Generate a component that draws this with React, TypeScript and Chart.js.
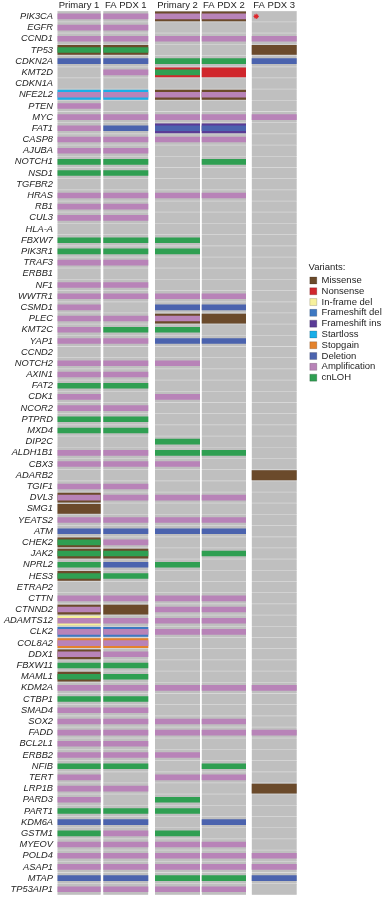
import React, { useEffect, useRef } from "react";
import { Chart, registerables } from "chart.js";

Chart.register(...registerables);

// ---------- DATA ----------
const GENES = [
  "PIK3CA", "EGFR", "CCND1", "TP53", "CDKN2A", "KMT2D", "CDKN1A", "NFE2L2", "PTEN", "MYC",
  "FAT1", "CASP8", "AJUBA", "NOTCH1", "NSD1", "TGFBR2", "HRAS", "RB1", "CUL3", "HLA-A",
  "FBXW7", "PIK3R1", "TRAF3", "ERBB1", "NF1", "WWTR1", "CSMD1", "PLEC", "KMT2C", "YAP1",
  "CCND2", "NOTCH2", "AXIN1", "FAT2", "CDK1", "NCOR2", "PTPRD", "MXD4", "DIP2C", "ALDH1B1",
  "CBX3", "ADARB2", "TGIF1", "DVL3", "SMG1", "YEATS2", "ATM", "CHEK2", "JAK2", "NPRL2",
  "HES3", "ETRAP2", "CTTN", "CTNND2", "ADAMTS12", "CLK2", "COL8A2", "DDX1", "FBXW11", "MAML1",
  "KDM2A", "CTBP1", "SMAD4", "SOX2", "FADD", "BCL2L1", "ERBB2", "NFIB", "TERT", "LRP1B",
  "PARD3", "PART1", "KDM6A", "GSTM1", "MYEOV", "POLD4", "ASAP1", "MTAP", "TP53AIP1",
];

const SAMPLES = ["Primary 1", "FA PDX 1", "Primary 2", "FA PDX 2", "FA PDX 3"];

// copy-number codes per gene: A = Amplification, D = Deletion, L = cnLOH, "" = none
const CNV_PRIMARY1 = [
  "A", "A", "A", "L", "D", "", "", "A", "A", "A",
  "A", "A", "A", "L", "L", "", "A", "A", "A", "",
  "L", "L", "A", "", "A", "A", "A", "A", "A", "A",
  "", "A", "A", "L", "A", "A", "L", "L", "", "A",
  "A", "", "A", "A", "", "A", "D", "L", "L", "L",
  "L", "", "A", "A", "A", "A", "A", "A", "L", "L",
  "A", "L", "A", "A", "A", "A", "A", "L", "A", "A",
  "A", "L", "D", "L", "A", "A", "A", "D", "A",
];
const CNV_PDX1 = [
  "A", "A", "A", "L", "D", "A", "", "A", "", "A",
  "D", "A", "A", "L", "L", "", "A", "A", "A", "",
  "L", "L", "A", "", "A", "A", "", "A", "L", "A",
  "", "A", "A", "L", "", "A", "L", "L", "", "A",
  "A", "", "A", "A", "", "A", "D", "A", "L", "D",
  "L", "", "A", "", "A", "A", "A", "A", "L", "L",
  "A", "L", "A", "A", "A", "A", "A", "L", "", "A",
  "", "L", "D", "A", "A", "A", "A", "D", "A",
];
const CNV_PRIMARY2 = [
  "A", "", "A", "", "L", "L", "", "A", "", "A",
  "D", "A", "", "", "", "", "A", "", "", "",
  "L", "L", "", "", "", "A", "D", "A", "L", "D",
  "", "A", "", "", "A", "", "", "", "L", "L",
  "A", "", "", "A", "", "A", "D", "", "", "L",
  "", "", "A", "A", "A", "A", "", "", "", "",
  "A", "", "", "A", "A", "", "A", "", "A", "",
  "L", "L", "", "L", "A", "A", "A", "L", "A",
];
const CNV_PDX2 = [
  "A", "", "A", "", "L", "", "", "A", "", "A",
  "D", "A", "", "L", "", "", "A", "", "", "",
  "", "", "", "", "", "A", "D", "", "", "D",
  "", "", "", "", "", "", "", "", "", "L",
  "", "", "", "A", "", "A", "D", "", "L", "",
  "", "", "A", "A", "A", "A", "", "", "", "",
  "A", "", "", "A", "A", "", "", "L", "A", "",
  "", "", "D", "", "A", "A", "A", "L", "A",
];
const CNV_PDX3 = [
  "", "", "A", "", "D", "", "", "", "", "A",
  "", "", "", "", "", "", "", "", "", "",
  "", "", "", "", "", "", "", "", "", "",
  "", "", "", "", "", "", "", "", "", "",
  "", "", "", "", "", "", "", "", "", "",
  "", "", "", "", "", "", "", "", "", "",
  "A", "", "", "", "A", "", "", "", "", "",
  "", "", "", "", "", "A", "A", "D", "",
];

// small variants per sample
const MUT_PRIMARY1: Record<string, string> = {
  TP53: "Missense", NFE2L2: "Startloss", DVL3: "Missense", SMG1: "Missense",
  CHEK2: "Missense", JAK2: "Missense", HES3: "Missense", CTNND2: "Missense",
  ADAMTS12: "In-frame del", CLK2: "Frameshift del", COL8A2: "Stopgain",
  DDX1: "Missense", MAML1: "Missense",
};
const MUT_PDX1: Record<string, string> = {
  TP53: "Missense", NFE2L2: "Startloss", JAK2: "Missense", CTNND2: "Missense",
  CLK2: "Frameshift del", COL8A2: "Stopgain",
};
const MUT_PRIMARY2: Record<string, string> = {
  PIK3CA: "Missense", KMT2D: "Nonsense", NFE2L2: "Missense", FAT1: "Frameshift ins",
  PLEC: "Missense",
};
const MUT_PDX2: Record<string, string> = {
  PIK3CA: "Missense", KMT2D: "Nonsense", NFE2L2: "Missense", FAT1: "Frameshift ins",
  PLEC: "Missense",
};
const MUT_PDX3: Record<string, string> = {
  TP53: "Missense", ADARB2: "Missense", LRP1B: "Missense",
};

// flagged cell (red asterisk)
const FLAGGED = [{ sample: "FA PDX 3", gene: "PIK3CA" }];

const VARIANTS = [
  "Missense", "Nonsense", "In-frame del", "Frameshift del", "Frameshift ins",
  "Startloss", "Stopgain", "Deletion", "Amplification", "cnLOH",
];
const VARIANT_COLORS = [
  "#6b4a2b", "#d0262c", "#f7f19c", "#3d78c2", "#5a3b96",
  "#19aee8", "#e4822c", "#4b63ae", "#b883b8", "#2f9f52",
];

// ---------- STYLE / LAYOUT ----------
const CNV_NAME: Record<string, string> = { A: "Amplification", D: "Deletion", L: "cnLOH" };
const colorOf = (v: string) => VARIANT_COLORS[VARIANTS.indexOf(v)] || "rgba(0,0,0,0)";

const COL_START = [0, 46, 97.7, 144.4, 194.4];
const COL_END = [43.4, 91, 142.7, 188.7, 239.4];
const Y_AXIS_W = 57.3;
const LEGEND_W = 76.5;
const X_MAX = 385 - LEGEND_W - Y_AXIS_W;
const FONT = "'Liberation Sans', Arial, Helvetica, sans-serif";
const CELL = "#bfbfbf";
const SEP = "#d6d6d6";
const TEXT = "#1e1e1e";

const CNVS = [CNV_PRIMARY1, CNV_PDX1, CNV_PRIMARY2, CNV_PDX2, CNV_PDX3];
const MUTS = [MUT_PRIMARY1, MUT_PDX1, MUT_PRIMARY2, MUT_PDX2, MUT_PDX3];

export default function App() {
  const ref = useRef<HTMLCanvasElement | null>(null);

  useEffect(() => {
    if (!ref.current) return;
    const datasets: any[] = [];
    SAMPLES.forEach((s, c) => {
      const span = [COL_START[c], COL_END[c]];
      datasets.push({
        label: s + " cell",
        data: GENES.map(() => span),
        backgroundColor: CELL,
        borderColor: SEP,
        borderWidth: { top: 0.7, bottom: 0.7, left: 0, right: 0 },
        borderSkipped: false,
        barPercentage: 1,
        categoryPercentage: 1,
        grouped: false,
        order: 3,
      });
      const mut = MUTS[c];
      datasets.push({
        label: s + " variant",
        data: GENES.map((g) => (mut[g] ? span : null)),
        backgroundColor: GENES.map((g) => colorOf(mut[g])),
        borderWidth: 0,
        barPercentage: 0.875,
        categoryPercentage: 1,
        grouped: false,
        order: 2,
      });
      const cnv = CNVS[c];
      datasets.push({
        label: s + " cnv",
        data: cnv.map((k) => (k ? span : null)),
        backgroundColor: cnv.map((k) => colorOf(CNV_NAME[k])),
        borderWidth: 0,
        barPercentage: 0.5,
        categoryPercentage: 1,
        grouped: false,
        order: 1,
      });
    });
    datasets.push({
      type: "scatter",
      label: "flag",
      data: FLAGGED.map((f) => ({ x: COL_START[SAMPLES.indexOf(f.sample)] + 4.5, y: f.gene })),
      pointStyle: "star",
      pointRadius: 2.6,
      borderColor: "#e0262c",
      backgroundColor: "#e0262c",
      borderWidth: 1.1,
      order: 0,
    });

    const chart = new Chart(ref.current, {
      type: "bar",
      data: { labels: GENES, datasets },
      options: {
        indexAxis: "y",
        animation: false,
        responsive: false,
        events: [],
        layout: { padding: { top: 0, right: 0, bottom: 3, left: 0 } },
        plugins: {
          tooltip: { enabled: false },
          legend: {
            position: "right",
            align: "start",
            maxWidth: LEGEND_W,
            title: {
              display: true,
              text: "Variants:",
              position: "start",
              color: TEXT,
              font: { family: FONT, size: 9.5 },
              padding: { top: 263, bottom: 0 },
            },
            labels: {
              boxWidth: 7,
              boxHeight: 7,
              padding: 1.3,
              color: TEXT,
              font: { family: FONT, size: 9.5 },
              generateLabels: () =>
                VARIANTS.map((v, i) => ({
                  text: v,
                  fillStyle: VARIANT_COLORS[i],
                  strokeStyle: "rgba(0,0,0,0.35)",
                  lineWidth: 0.5,
                  hidden: false,
                  datasetIndex: i,
                })),
            },
          },
        },
        scales: {
          x: {
            type: "linear",
            position: "top",
            min: 0,
            max: X_MAX,
            grid: { display: false, drawTicks: false },
            border: { display: false },
            afterBuildTicks: (scale: any) => {
              scale.ticks = SAMPLES.map((_, i) => ({ value: (COL_START[i] + COL_END[i]) / 2 }));
            },
            afterFit: (scale: any) => {
              scale.height = 10.8;
              scale.paddingLeft = 0;
              scale.paddingRight = 0;
            },
            ticks: {
              autoSkip: false,
              maxRotation: 0,
              minRotation: 0,
              padding: -0.5,
              color: TEXT,
              font: { family: FONT, size: 9.5 },
              callback: (_v: any, i: number) => SAMPLES[i],
            },
          },
          y: {
            type: "category",
            grid: { display: false, drawTicks: false },
            border: { display: false },
            afterFit: (scale: any) => {
              scale.width = Y_AXIS_W;
              scale.paddingTop = 0;
              scale.paddingBottom = 0;
            },
            ticks: {
              autoSkip: false,
              padding: 4.3,
              color: TEXT,
              font: { family: FONT, size: 9.3, style: "italic" },
            },
          },
        },
      } as any,
    });
    return () => chart.destroy();
  }, []);

  return (
    <div style={{ position: "absolute", left: 0, top: 0, width: 385, height: 900, background: "#fff" }}>
      <canvas ref={ref} width={385} height={900} style={{ display: "block" }} />
    </div>
  );
}
